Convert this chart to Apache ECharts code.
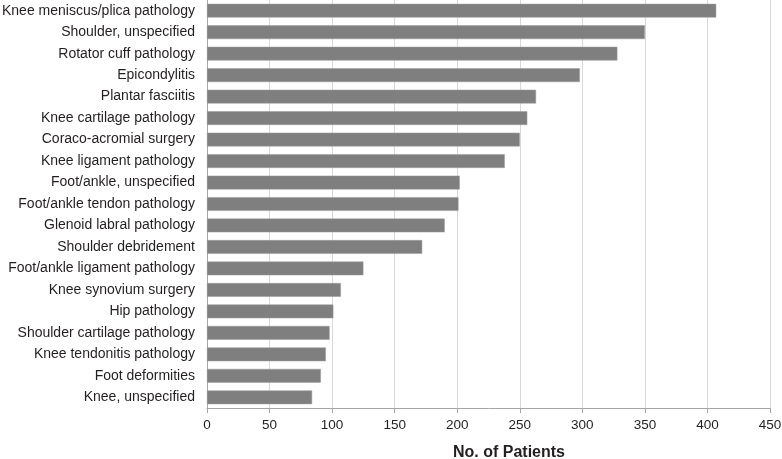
<!DOCTYPE html>
<html>
<head>
<meta charset="utf-8">
<script src="https://cdn.jsdelivr.net/npm/echarts@6/dist/echarts.min.js"></script>
<style>
  html, body { margin: 0; padding: 0; background: #fff; }
</style>
</head>
<body>
<div id="chart" style="width: 782px; height: 459px"></div>
<script>
// categories, top to bottom
const categories = [
  "Knee meniscus/plica pathology",
  "Shoulder, unspecified",
  "Rotator cuff pathology",
  "Epicondylitis",
  "Plantar fasciitis",
  "Knee cartilage pathology",
  "Coraco-acromial surgery",
  "Knee ligament pathology",
  "Foot/ankle, unspecified",
  "Foot/ankle tendon pathology",
  "Glenoid labral pathology",
  "Shoulder debridement",
  "Foot/ankle ligament pathology",
  "Knee synovium surgery",
  "Hip pathology",
  "Shoulder cartilage pathology",
  "Knee tendonitis pathology",
  "Foot deformities",
  "Knee, unspecified"
];
const patients = [407, 350, 328, 298, 263, 256, 250, 238, 202, 201, 190, 172, 125, 107, 101, 98, 95, 91, 84];
const xTicks = [0, 450, 50]; // min, max, interval

let myChart = echarts.init(document.getElementById("chart"));
myChart.setOption({
  animation: false,
  textStyle: { fontFamily: "Liberation Sans, Arial, sans-serif" },
  grid: {
    left: 207,
    right: 12,
    top: 0,
    bottom: 51,
    containLabel: false,
    outerBoundsMode: "none",
  },
  xAxis: {
    type: "value",
    min: xTicks[0],
    max: xTicks[1],
    interval: xTicks[2],
    name: "No. of Patients",
    nameLocation: "middle",
    nameGap: 37,
    nameTextStyle: { color: "#231f20", fontSize: 16, fontWeight: "bold", padding: [0, 0, 0, 41] },
    axisLabel: { color: "#231f20", fontSize: 13.5, margin: 10 },
    axisLine: { show: true, lineStyle: { color: "#a6a6a6" } },
    axisTick: { show: true, length: 5, lineStyle: { color: "#a6a6a6" } },
    splitLine: { lineStyle: { color: "#d9d9d9" } },
  },
  yAxis: {
    type: "category",
    data: categories,
    inverse: true,
    axisLabel: { color: "#231f20", fontSize: 14, margin: 12 },
    axisLine: { lineStyle: { color: "#a6a6a6" } },
    axisTick: { length: 5, lineStyle: { color: "#a6a6a6" } },
  },
  series: [
    {
      type: "bar",
      data: patients,
      barCategoryGap: "36%",
      itemStyle: { color: "#7f7f7f", borderColor: "#9a9a9a", borderWidth: 0.5 },
    },
  ],
});
</script>
</body>
</html>
